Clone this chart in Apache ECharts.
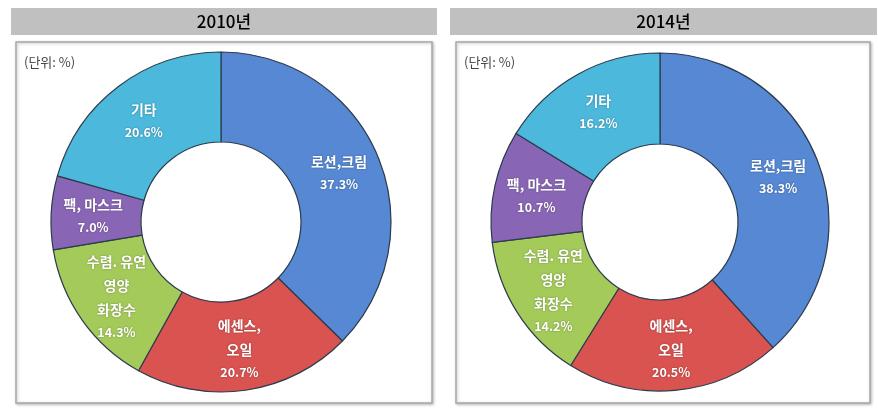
<!DOCTYPE html>
<html><head><meta charset="utf-8">
<script src="https://cdn.jsdelivr.net/npm/echarts@6/dist/echarts.min.js"></script>
<style>html,body{margin:0;padding:0;background:#fff}#c{width:878px;height:413px}</style>
</head><body><div id="c"></div>
<script>
// ---- data ----
const categories = ['로션,크림', '에센스,\n오일', '수렴. 유연\n영양\n화장수', '팩, 마스크', '기타'];
const values2010 = [37.3, 20.7, 14.3, 7.0, 20.6];
const values2014 = [38.3, 20.5, 14.2, 10.7, 16.2];
const panelTitles = ['2010년', '2014년'];
const unitLabel = '(단위: %)';

// ---- styles ----
const colors = ['#5688d3', '#d95350', '#a4ca5a', '#8966b5', '#4bb8dc'];
const FONT = '"Noto Sans CJK KR", "Noto Sans", sans-serif';

function buildData(vals) {
  return categories.map((n, i) => ({ name: n, value: vals[i], itemStyle: { color: colors[i] } }));
}

function pieSeries(vals, center, radius) {
  return {
    type: 'pie',
    center: center,
    radius: radius,
    startAngle: 90,
    clockwise: true,
    avoidLabelOverlap: false,
    animation: false,
    itemStyle: { borderColor: '#2c3b4d', borderWidth: 1.2 },
    label: {
      show: true,
      position: 'inside',
      color: '#fff',
      fontFamily: FONT,
      fontWeight: 'bold',
      textShadowColor: 'rgba(0,0,0,0.35)',
      textShadowBlur: 2,
      formatter: p => p.name.split('\n').map(s => '{n|' + s + '}').join('\n') + '\n{v|' + p.value.toFixed(1) + '%}',
      rich: {
        n: { fontFamily: FONT, fontWeight: 'bold', fontSize: 14, lineHeight: 24, color: '#fff' },
        v: { fontFamily: FONT, fontWeight: 'bold', fontSize: 12.5, lineHeight: 21, color: '#fff' }
      }
    },
    labelLine: { show: false },
    emphasis: { disabled: true },
    data: buildData(vals)
  };
}

const panels = [
  { hx: 11, hw: 426, bx: 16, bw: 416, title: panelTitles[0] },
  { hx: 450, hw: 427, bx: 456, bw: 414, title: panelTitles[1] }
];

const graphic = [];
panels.forEach(p => {
  graphic.push({ type: 'rect', shape: { x: p.hx, y: 8, width: p.hw, height: 27 }, style: { fill: '#c0c0c0' }, z: 0 });
  graphic.push({ type: 'rect', shape: { x: p.bx, y: 42, width: p.bw, height: 361 },
    style: { fill: '#fff', stroke: '#a8a8a8', lineWidth: 1.5, shadowColor: 'rgba(0,0,0,0.25)', shadowBlur: 3, shadowOffsetX: 1, shadowOffsetY: 1 }, z: 0 });
  graphic.push({ type: 'text', x: p.hx + p.hw / 2, y: 22,
    style: { text: p.title, fill: '#000', fontFamily: FONT, fontSize: 17, fontWeight: 500, align: 'center', verticalAlign: 'middle' }, z: 1 });
  graphic.push({ type: 'text', x: p.bx + 8, y: 62,
    style: { text: unitLabel, fill: '#444', fontFamily: FONT, fontSize: 13, align: 'left', verticalAlign: 'middle' }, z: 1 });
});

const chart = echarts.init(document.getElementById('c'), null, { renderer: 'canvas' });
chart.setOption({
  animation: false,
  graphic: graphic,
  series: [
    pieSeries(values2010, [221, 222], [80, 170]),
    pieSeries(values2014, [660, 222], [78, 169])
  ]
});
</script>
</body></html>
